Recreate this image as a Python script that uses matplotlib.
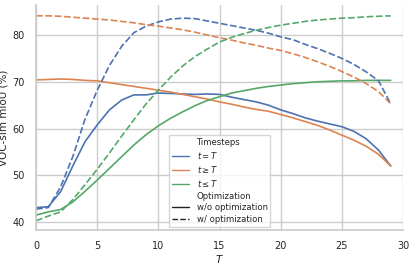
import matplotlib
matplotlib.use("Agg")
import matplotlib.pyplot as plt
import seaborn as sns
from matplotlib.lines import Line2D

sns.set_theme(style="whitegrid")
plt.rcParams['font.family'] = ['DejaVu Sans']

T = list(range(30))

eq_wo = [43.1, 43.3, 46.5, 52.0, 57.2, 60.8, 64.0, 66.1, 67.2, 67.2, 67.6, 67.5, 67.4, 67.3, 67.4,
         67.3, 66.7, 66.2, 65.7, 65.0, 64.0, 63.2, 62.3, 61.6, 61.0, 60.4, 59.4, 57.8, 55.4, 52.0]
ge_wo = [70.4, 70.5, 70.6, 70.5, 70.3, 70.2, 69.8, 69.4, 69.0, 68.6, 68.2, 67.8, 67.3, 66.8, 66.3,
         65.7, 65.2, 64.6, 64.1, 63.7, 63.0, 62.3, 61.5, 60.7, 59.7, 58.6, 57.5, 56.2, 54.5, 52.0]
le_wo = [41.5, 42.2, 42.7, 44.3, 46.6, 49.0, 51.5, 54.0, 56.5, 58.7, 60.6, 62.2, 63.6, 64.9, 66.0,
         66.8, 67.6, 68.1, 68.6, 69.0, 69.3, 69.6, 69.8, 70.0, 70.1, 70.2, 70.2, 70.3, 70.3, 70.3]
eq_w = [42.8, 43.1, 47.5, 54.0, 62.0, 68.2, 73.5, 77.6, 80.5, 81.9, 82.8, 83.4, 83.6, 83.5, 83.0,
        82.5, 82.0, 81.5, 81.0, 80.4, 79.6, 79.0, 78.0, 77.1, 76.1, 75.0, 73.7, 72.1, 70.2, 65.3]
ge_w = [84.1, 84.1, 84.0, 83.8, 83.6, 83.4, 83.2, 82.9, 82.6, 82.2, 81.9, 81.5, 81.1, 80.6, 80.0,
        79.4, 78.9, 78.3, 77.8, 77.2, 76.7, 76.0, 75.2, 74.3, 73.3, 72.2, 71.0, 69.6, 67.9, 65.3]
le_w = [40.3, 41.3, 42.2, 44.8, 48.0, 51.3, 54.8, 58.4, 61.9, 65.3, 68.2, 71.0, 73.4, 75.4, 77.0,
        78.5, 79.5, 80.3, 81.0, 81.6, 82.1, 82.5, 82.9, 83.2, 83.4, 83.6, 83.7, 83.9, 84.0, 84.1]

labels = [r"$t = T$", r"$t \geq T$", r"$t \leq T$"]
colors = ["#4C72B0", "#DD8452", "#55A868"]

fig = plt.figure(figsize=(4.15, 2.66), dpi=100)
ax = fig.add_axes([0.087, 0.135, 0.884, 0.846])

lw = 1.2
for ys, c in zip([eq_wo, ge_wo, le_wo], colors):
    ax.plot(T, ys, color=c, lw=lw)
for ys, c in zip([eq_w, ge_w, le_w], colors):
    ax.plot(T, ys, color=c, lw=lw, ls=(0, (4, 1.6)))

ax.set_xlim(0, 30)
ax.set_ylim(38.3, 86.4)
ax.set_xticks([0, 5, 10, 15, 20, 25, 30])
ax.set_yticks([40, 50, 60, 70, 80])
ax.tick_params(labelsize=7, pad=2)
ax.set_xlabel("$T$", fontsize=7.5, labelpad=1)
ax.set_ylabel("VOC-sim mIoU (%)", fontsize=7.5, labelpad=3)
for s in ["top", "right"]:
    ax.spines[s].set_visible(False)
for s in ["left", "bottom"]:
    ax.spines[s].set_color("#cccccc")

blank = Line2D([], [], color="none")
handles = [blank] + [Line2D([], [], color=c, lw=1.0) for c in colors] + [
    blank,
    Line2D([], [], color="#222222", lw=1.0),
    Line2D([], [], color="#222222", lw=1.0, ls=(0, (4, 1.6))),
]
texts = ["Timesteps"] + labels + ["Optimization", "w/o optimization", "w/ optimization"]
leg = ax.legend(handles, texts, loc="lower center", fontsize=6.1, frameon=True,
                labelspacing=0.33, handlelength=2.1, handletextpad=0.85, borderaxespad=0.35,
                borderpad=0.35)

fig.savefig("out.png", dpi=100)
